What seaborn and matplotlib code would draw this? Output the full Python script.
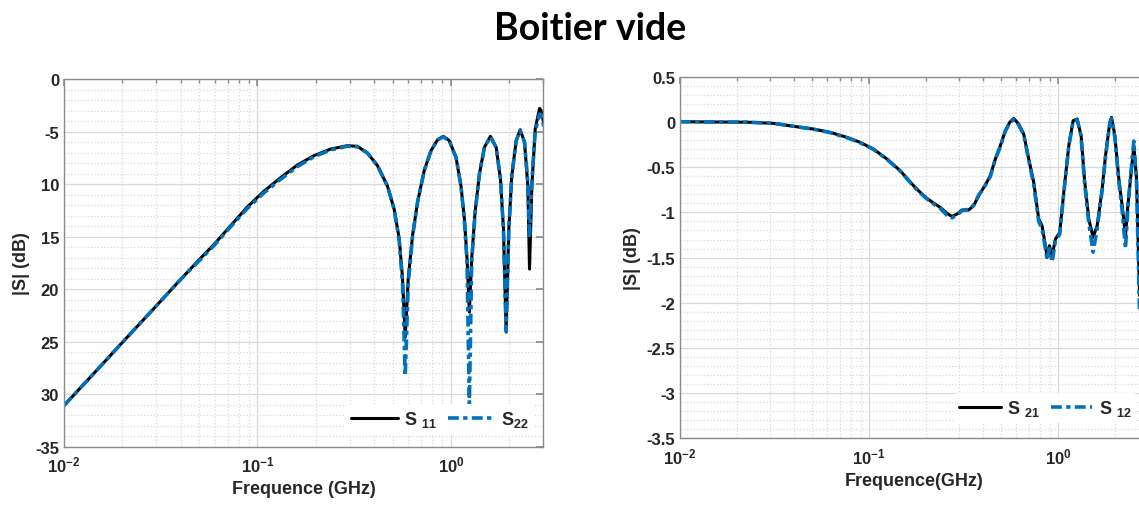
import numpy as np
import pandas as pd
import seaborn as sns
import matplotlib.pyplot as plt
from matplotlib.ticker import LogLocator, MultipleLocator, FixedLocator, FixedFormatter, NullFormatter

# left panel: reflection (GHz, dB)
freq_refl = [0.01, 0.015, 0.02, 0.03, 0.04, 0.05, 0.06, 0.0724, 0.0884, 0.1078,
             0.1316, 0.1605, 0.1958, 0.2389, 0.2914, 0.3284, 0.3701, 0.4169, 0.4696, 0.5085,
             0.5400, 0.5619, 0.5800, 0.6012, 0.6329, 0.6722, 0.7277, 0.7879, 0.8530, 0.9127,
             0.9804, 1.0615, 1.1266, 1.1724, 1.2104, 1.2445, 1.2796, 1.3315, 1.4025, 1.4887,
             1.5989, 1.7112, 1.8018, 1.8676, 1.9275, 1.9898, 2.0622, 2.1720, 2.2785, 2.3988,
             2.4957, 2.5461, 2.6182, 2.7240, 2.8697, 2.926, 3.06]
s11 = [-31.1, -27.6, -25.1, -21.6, -19.1, -17.2, -15.7, -14.0, -12.2, -10.7,
       -9.4, -8.2, -7.3, -6.67, -6.35, -6.41, -7.05, -8.25, -10.2, -12.4,
       -15.2, -19.0, -24.6, -19.0, -14.9, -11.7, -8.7, -6.83, -5.78, -5.46,
       -5.87, -7.46, -10.2, -13.3, -17.1, -22.2, -17.1, -12.7, -9.05, -6.5,
       -5.46, -6.5, -9.5, -14.3, -24.1, -14.3, -9.2, -5.87, -4.83, -6.0,
       -10.2, -18.1, -10.2, -4.76, -2.79, -3.0, -4.76]
s22 = [-31.1, -27.6, -25.1, -21.6, -19.1, -17.3, -15.8, -14.1, -12.35, -10.85,
       -9.55, -8.35, -7.4, -6.75, -6.4, -6.45, -7.05, -8.25, -10.2, -12.4,
       -15.4, -19.5, -28.3, -19.5, -15.0, -11.7, -8.7, -6.83, -5.8, -5.5,
       -5.9, -7.46, -10.2, -13.4, -17.5, -30.9, -17.5, -12.8, -9.05, -6.5,
       -5.5, -6.5, -9.5, -14.4, -24.0, -14.4, -9.2, -5.9, -4.9, -6.0,
       -9.8, -14.9, -9.8, -5.0, -3.33, -3.4, -5.0]

# right panel: transmission (GHz, dB)
freq_trans = [0.01, 0.015, 0.0225, 0.0312, 0.0398, 0.0507, 0.0622, 0.0762, 0.0896, 0.1054,
              0.1240, 0.1459, 0.1716, 0.1862, 0.2019, 0.2189, 0.2374, 0.2575, 0.2737, 0.2909,
              0.3092, 0.3354, 0.3565, 0.3789, 0.4109, 0.4368, 0.4642, 0.4934, 0.5244, 0.5527,
              0.5803, 0.6168, 0.6556, 0.6968, 0.7406, 0.7870, 0.8196, 0.8537, 0.8711, 0.8965,
              0.9260, 0.9643, 1.0165, 1.0674, 1.1346, 1.1958, 1.2560, 1.3183, 1.3731, 1.4476,
              1.5258, 1.6022, 1.7026, 1.7740, 1.8700, 1.9083, 1.9875, 2.0864, 2.1727, 2.2628,
              2.3281, 2.4049, 2.5046, 2.5873, 2.6842]
s21 = [0.005, 0.002, 0.0, -0.013, -0.046, -0.076, -0.113, -0.168, -0.224, -0.298,
       -0.408, -0.538, -0.704, -0.778, -0.844, -0.896, -0.944, -1.010, -1.044, -1.018,
       -0.973, -0.973, -0.925, -0.815, -0.696, -0.593, -0.408, -0.261, -0.094, -0.002,
       0.042, -0.021, -0.131, -0.408, -0.667, -1.073, -1.147, -1.369, -1.498, -1.369,
       -1.479, -1.295, -1.221, -0.778, -0.261, 0.016, 0.035, -0.150, -0.630, -1.073,
       -1.276, -1.147, -0.741, -0.371, -0.002, 0.053, -0.150, -0.630, -0.925, -1.258,
       -0.925, -0.630, -0.261, -0.630, -1.92]
s12 = [0.005, 0.002, 0.0, -0.013, -0.046, -0.078, -0.116, -0.172, -0.228, -0.302,
       -0.412, -0.542, -0.71, -0.785, -0.85, -0.905, -0.955, -1.03, -1.06, -1.03,
       -0.98, -0.965, -0.92, -0.81, -0.70, -0.60, -0.41, -0.27, -0.10, -0.01,
       0.03, -0.03, -0.14, -0.42, -0.69, -1.10, -1.18, -1.40, -1.52, -1.40,
       -1.55, -1.32, -1.24, -0.79, -0.27, 0.01, 0.03, -0.16, -0.66, -1.12,
       -1.44, -1.18, -0.76, -0.38, -0.01, 0.04, -0.17, -0.66, -0.98, -1.40,
       -0.96, -0.60, -0.21, -0.66, -2.10]

left_yticks = [0, -5, -10, -15, -20, -25, -30, -35]
left_ylabels = ['0', '-5', '10', '15', '20', '25', '30', '-35']
right_yticks = [0.5, 0, -0.5, -1, -1.5, -2, -2.5, -3, -3.5]
right_ylabels = ['0.5', '0', '-0.5', '-1', '-1.5', '-2', '-2.5', '-3', '-3.5']

sns.set_theme(style='white')
plt.rcParams['font.family'] = ['Liberation Sans', 'DejaVu Sans']
plt.rcParams['font.weight'] = 'bold'
plt.rcParams['axes.unicode_minus'] = False
plt.rcParams['mathtext.fontset'] = 'custom'
plt.rcParams['mathtext.bf'] = 'Liberation Sans:bold'
plt.rcParams['mathtext.rm'] = 'Liberation Sans:bold'
plt.rcParams['mathtext.default'] = 'bf'

blue = '#0072BD'
dash = (0, (3, 1.2, 1.2, 1.2))
fig = plt.figure(figsize=(11.39, 5.10), dpi=100)
ax1 = fig.add_axes([0.0562, 0.1225, 0.4208, 0.7206])
ax2 = fig.add_axes([0.597, 0.139, 0.4115, 0.708])

df_l = pd.DataFrame({'f': freq_refl, 's11': s11, 's22': s22})
df_r = pd.DataFrame({'f': freq_trans, 's21': s21, 's12': s12})

sns.lineplot(data=df_l, x='f', y='s11', ax=ax1, color='black', lw=2.2, label='S $_{11}$')
sns.lineplot(data=df_l, x='f', y='s22', ax=ax1, color=blue, lw=2.6, linestyle=dash,
             label='S$_{22}$')
sns.lineplot(data=df_r, x='f', y='s21', ax=ax2, color='black', lw=2.2, label='S $_{21}$')
sns.lineplot(data=df_r, x='f', y='s12', ax=ax2, color=blue, lw=2.6, linestyle=dash,
             label='S $_{12}$')

for ax, yt, yl, lim, minor in [(ax1, left_yticks, left_ylabels, (-35, 0), 1),
                               (ax2, right_yticks, right_ylabels, (-3.5, 0.5), 0.1)]:
    ax.set_xscale('log')
    ax.set_xlim(0.01, 3.0)
    ax.set_ylim(*lim)
    ax.yaxis.set_major_locator(FixedLocator(yt))
    ax.yaxis.set_major_formatter(FixedFormatter(yl))
    ax.yaxis.set_minor_locator(MultipleLocator(minor))
    ax.xaxis.set_minor_locator(LogLocator(base=10, subs=np.arange(2, 10), numticks=20))
    ax.xaxis.set_minor_formatter(NullFormatter())
    ax.grid(which='major', color='#d9d9d9', linewidth=0.9, linestyle='-')
    ax.grid(which='minor', color='#d9d9d9', linewidth=0.9, linestyle=':')
    ax.set_axisbelow(True)
    for s in ax.spines.values():
        s.set_color('#8c8c8c')
        s.set_linewidth(1.0)
    ax.tick_params(which='both', direction='in', top=True, right=True, colors='#8c8c8c',
                   labelcolor='#262626', labelsize=12)
    ax.tick_params(which='major', length=5)
    ax.tick_params(axis='x', which='minor', length=3)
    ax.tick_params(axis='y', which='minor', length=0)
    ax.tick_params(axis='x', pad=6)
    ax.set_ylabel('|S| (dB)', fontsize=13, fontweight='bold', color='#262626')

ax1.set_xlabel('Frequence (GHz)', fontsize=13, fontweight='bold', color='#262626')
ax2.set_xlabel('Frequence(GHz)', fontsize=13, fontweight='bold', color='#262626')

for ax, anchor, hl in [(ax1, (0.477, 0.128), 2.6), (ax2, (1.006, 0.15), 2.3)]:
    leg = ax.legend(loc='lower right', bbox_to_anchor=anchor, bbox_transform=fig.transFigure,
                    ncol=2, frameon=True, fontsize=13, handlelength=hl, handletextpad=0.35,
                    columnspacing=0.6, borderpad=0.3)
    leg.get_frame().set_edgecolor('none')
    leg.get_frame().set_facecolor('white')
    leg.get_frame().set_alpha(1)
    for t in leg.get_texts():
        t.set_fontweight('bold')

fig.text(0.518, 0.944, 'Boitier vide', ha='center', va='center', fontsize=27,
         fontweight='bold', family='Lato', color='black')

fig.savefig('out.png', dpi=100, facecolor='white')
